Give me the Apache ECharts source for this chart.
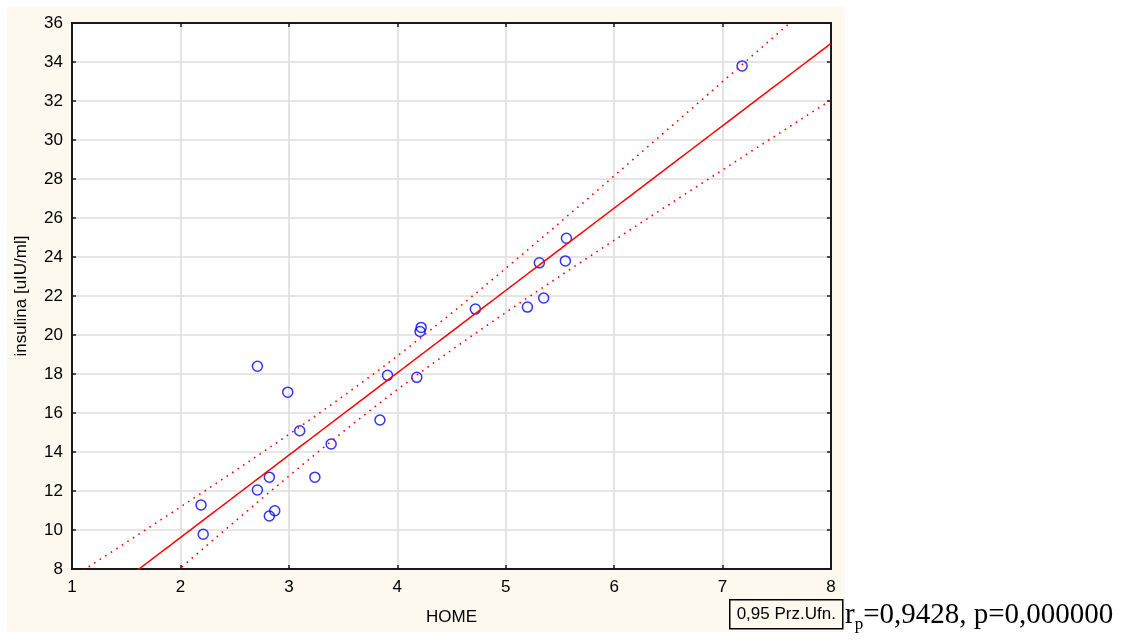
<!DOCTYPE html>
<html>
<head>
<meta charset="utf-8">
<title>insulina vs HOME</title>
<script src="https://cdn.jsdelivr.net/npm/echarts@6/dist/echarts.min.js"></script>
<style>
  html, body { margin: 0; padding: 0; background: #ffffff; }
  #chart { width: 1122px; height: 641px; }
</style>
</head>
<body>
<div id="chart"></div>
<script>
// Observations: HOME index vs insulin level
const homeX = [2.19, 2.21, 2.71, 2.71, 2.82, 2.82, 2.87, 2.99, 3.10, 3.24, 3.39,
               3.84, 3.91, 4.18, 4.22, 4.21, 4.72, 5.20, 5.31, 5.35, 5.55, 5.56, 7.18];
const insulinaY = [11.28, 9.78, 18.40, 12.05, 12.71, 10.72, 10.99, 17.07, 15.09, 12.71, 14.41,
                   15.64, 17.93, 17.83, 20.39, 20.18, 21.33, 21.43, 23.70, 21.90, 23.80, 24.96, 33.80];

const xTicks = [1, 2, 3, 4, 5, 6, 7, 8];
const yTicks = [8, 10, 12, 14, 16, 18, 20, 22, 24, 26, 28, 30, 32, 34, 36];

const xAxisName = 'HOME';
const yAxisName = 'insulina [uIU/ml]';
const bandLabel = '0,95 Prz.Ufn.';
const statText = { r: '0,9428', p: '0,000000' };

// Least-squares fit with 95% confidence band for the mean
const n = homeX.length;
const mx = homeX.reduce((s, v) => s + v, 0) / n;
const my = insulinaY.reduce((s, v) => s + v, 0) / n;
let sxx = 0, sxy = 0;
for (let i = 0; i < n; i++) {
  sxx += (homeX[i] - mx) ** 2;
  sxy += (homeX[i] - mx) * (insulinaY[i] - my);
}
const slope = sxy / sxx;
const intercept = my - slope * mx;
let sse = 0;
for (let i = 0; i < n; i++) {
  const r = insulinaY[i] - (intercept + slope * homeX[i]);
  sse += r * r;
}
const se = Math.sqrt(sse / (n - 2));
const tCrit = 2.080; // t(0.975, 21)

const xMin = xTicks[0], xMax = xTicks[xTicks.length - 1];
const fitLine = [], upperBand = [], lowerBand = [];
for (let k = 0; k <= 140; k++) {
  const x = xMin + (xMax - xMin) * k / 140;
  const yh = intercept + slope * x;
  const h = tCrit * se * Math.sqrt(1 / n + (x - mx) ** 2 / sxx);
  fitLine.push([x, yh]);
  upperBand.push([x, yh + h]);
  lowerBand.push([x, yh - h]);
}

const font = '"Liberation Sans", Arial, sans-serif';
const serif = '"Liberation Serif", "Times New Roman", serif';
const cream = '#fdf9ee';
const frame = '#1a1a1a';

const chart = echarts.init(document.getElementById('chart'), null, { renderer: 'canvas' });

const baseX = {
  type: 'value', min: xMin, max: xMax, interval: 1,
  axisLine: { show: true, onZero: false, lineStyle: { color: frame, width: 2 } },
  axisTick: { show: true, inside: true, length: 4, lineStyle: { color: frame, width: 1.5 } },
  splitLine: { show: false }
};
const baseY = {
  type: 'value', min: yTicks[0], max: yTicks[yTicks.length - 1], interval: 2,
  axisLine: { show: true, onZero: false, lineStyle: { color: frame, width: 2 } },
  axisTick: { show: true, inside: true, length: 4, lineStyle: { color: frame, width: 1.5 } },
  splitLine: { show: false }
};

chart.setOption({
  animation: false,
  backgroundColor: '#ffffff',
  textStyle: { fontFamily: font },
  grid: {
    left: 72, top: 23, right: 291, bottom: 72,
    show: true, backgroundColor: '#ffffff', borderColor: frame, borderWidth: 2
  },
  xAxis: [
    Object.assign({}, baseX, {
      position: 'bottom',
      name: xAxisName, nameLocation: 'middle', nameGap: 40,
      nameTextStyle: { color: '#000', fontSize: 17, fontFamily: font },
      axisLabel: { color: '#000', fontSize: 17, margin: 10, fontFamily: font },
      splitLine: { show: true, lineStyle: { color: '#dedede', width: 1.6 } }
    }),
    Object.assign({}, baseX, { position: 'top', axisLabel: { show: false } })
  ],
  yAxis: [
    Object.assign({}, baseY, {
      position: 'left',
      name: yAxisName, nameLocation: 'middle', nameGap: 42,
      nameTextStyle: { color: '#000', fontSize: 17, fontFamily: font },
      axisLabel: { color: '#000', fontSize: 17, margin: 9, fontFamily: font },
      splitLine: { show: true, lineStyle: { color: '#dedede', width: 1.6 } }
    }),
    Object.assign({}, baseY, { position: 'right', axisLabel: { show: false } })
  ],
  graphic: [
    { type: 'rect', z: -10, silent: true, shape: { x: 7, y: 7, width: 838, height: 625 }, style: { fill: cream } },
    {
      type: 'group', left: 729, top: 599, z: 10,
      children: [
        { type: 'rect', shape: { x: 0, y: 0, width: 113, height: 29 }, style: { fill: cream, stroke: '#000', lineWidth: 1.5 } },
        { type: 'text', x: 56.5, y: 15, style: { text: bandLabel, fill: '#000', font: '17px ' + font, align: 'center', verticalAlign: 'middle' } }
      ]
    },
    {
      type: 'text', left: 845, top: 601, z: 10,
      style: {
        text: '{r|r}{s|p}{r|=' + statText.r + ', p=' + statText.p + '}',
        rich: {
          r: { fontFamily: serif, fontSize: 29, fill: '#000', verticalAlign: 'bottom' },
          s: { fontFamily: serif, fontSize: 17, fill: '#000', verticalAlign: 'bottom', padding: [0, 0, -3, 0] }
        }
      }
    }
  ],
  series: [
    {
      type: 'scatter', data: homeX.map((x, i) => [x, insulinaY[i]]),
      symbol: 'circle', symbolSize: 10,
      itemStyle: { color: 'rgba(0,0,0,0)', borderColor: '#0000ff', borderWidth: 1.5 },
      z: 3
    },
    {
      type: 'line', data: fitLine, showSymbol: false, smooth: false, clip: true,
      lineStyle: { color: '#ff0000', width: 1.5 }, z: 4
    },
    {
      type: 'line', data: upperBand, showSymbol: false, clip: true,
      lineStyle: { color: '#ff0000', width: 1.6, type: [1.6, 5] }, z: 4
    },
    {
      type: 'line', data: lowerBand, showSymbol: false, clip: true,
      lineStyle: { color: '#ff0000', width: 1.6, type: [1.6, 5] }, z: 4
    }
  ]
});
</script>
</body>
</html>
